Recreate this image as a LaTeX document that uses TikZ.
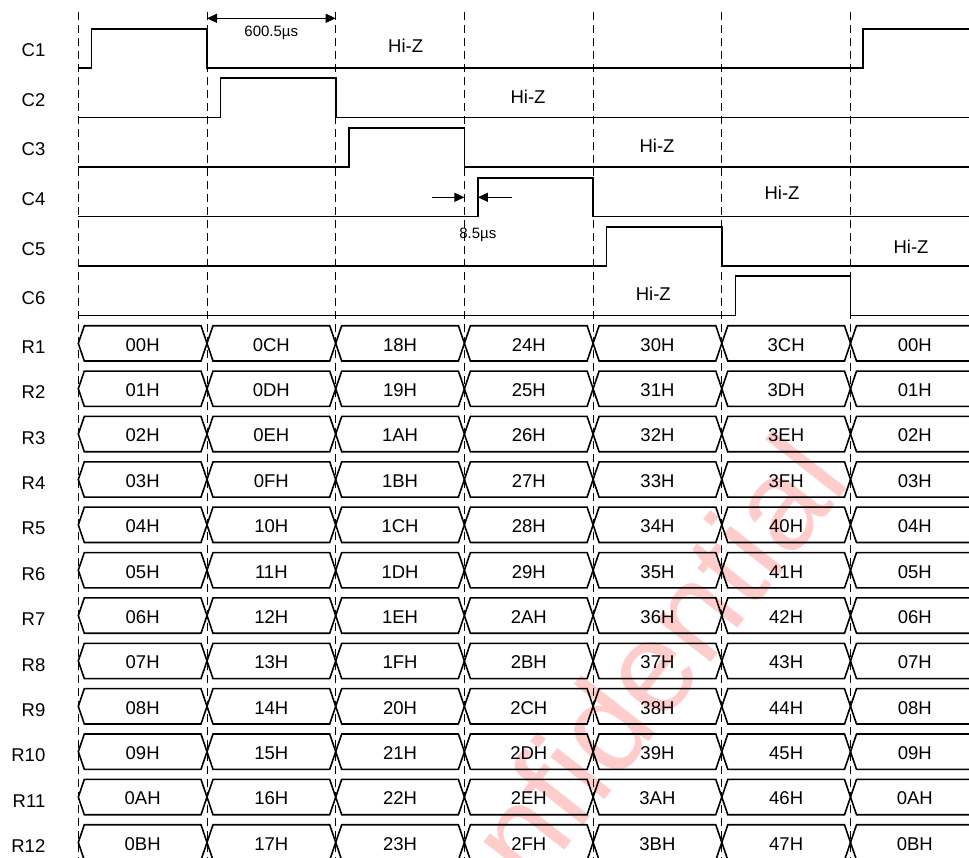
\documentclass[tikz,border=0pt]{standalone}
\usepackage{fontspec}
\setmainfont{Liberation Sans}
\usetikzlibrary{arrows.meta}
\begin{document}
\begin{tikzpicture}[x=1pt,y=-1pt,
  wave/.style={line width=1.6pt, line join=miter},
  gridline/.style={line width=0.9pt, dash pattern=on 8pt off 5pt},
  hexbox/.style={line width=1.6pt, line join=miter},
  lbl/.style={font=\fontsize{18.5}{18.5}\selectfont, inner sep=0pt},
  sig/.style={lbl, anchor=base east},
  val/.style={lbl, anchor=base},
  note/.style={font=\fontsize{15}{15}\selectfont, inner sep=0pt, anchor=base},
  dimline/.style={line width=1.2pt},
  tip/.tip={Triangle[length=10pt,width=9pt]},
  wm/.style={text=red!20, font=\fontsize{130}{130}\selectfont, inner sep=0pt},
]
\useasboundingbox (0,0) rectangle (969,857);
\clip (0,0) rectangle (969,857);

% watermark
\node[wm, rotate=52, anchor=base west] (wmark) at (430,1023) {Confidential};

% dashed grid lines
\foreach \i in {0,...,6} {
  \coordinate (gt\i) at (78.3+\i*128.7, 12);
  \coordinate (gb\i) at (78.3+\i*128.7, 860);
  \draw[gridline] (gt\i) -- (gb\i);
}

% signal labels C1..C6
\foreach \k in {1,...,6} {
  \node[sig] (c\k) at (45.5, {56.7+(\k-1)*49.6}) {C\k};
}

% waveforms
\draw[wave] (78.3,67.7) -- (91.5,67.7) -- (91.5,28.7) -- (207,28.7) -- (207,67.7) -- (863,67.7) -- (863,28.7) -- (975,28.7);
\draw[wave] (78.3,117.3) -- (220.5,117.3) -- (220.5,78.2) -- (335.7,78.2) -- (335.7,117.3) -- (975,117.3);
\draw[wave] (78.3,166.9) -- (349.2,166.9) -- (349.2,127.7) -- (464.4,127.7) -- (464.4,166.9) -- (975,166.9);
\draw[wave] (78.3,216.4) -- (477.9,216.4) -- (477.9,177.7) -- (593.1,177.7) -- (593.1,216.4) -- (975,216.4);
\draw[wave] (78.3,266.0) -- (606.6,266.0) -- (606.6,226.7) -- (721.8,226.7) -- (721.8,266.0) -- (975,266.0);
\draw[wave] (78.3,315.5) -- (735.3,315.5) -- (735.3,276.2) -- (850.5,276.2) -- (850.5,315.5) -- (975,315.5);

% Hi-Z labels
\node[val] (hz1) at (405.7,52.3) {Hi-Z};
\node[val] (hz2) at (528,103.5) {Hi-Z};
\node[val] (hz3) at (657,152.5) {Hi-Z};
\node[val] (hz4) at (782,199.3) {Hi-Z};
\node[val] (hz5) at (911,253.3) {Hi-Z};
\node[val] (hz6) at (653.3,300) {Hi-Z};

% 600.5us dimension
\coordinate (da) at (207,18.3);
\coordinate (db) at (335.7,18.3);
\draw[dimline, {tip}-{tip}] (da) -- (db);
\node[note] (t600) at (271.3,36) {600.5µs};

% 8.5us dimension
\coordinate (ea) at (432,197.3);
\coordinate (eb) at (464.4,197.3);
\coordinate (ec) at (511.7,197.3);
\coordinate (ed) at (477.9,197.3);
\draw[dimline, -{tip}] (ea) -- (eb);
\draw[dimline, -{tip}] (ec) -- (ed);
\node[note] (t85) at (477.8,238.3) {8.5µs};

% bus rows
\foreach \r/\vals in {
  1/{00H,0CH,18H,24H,30H,3CH,00H},
  2/{01H,0DH,19H,25H,31H,3DH,01H},
  3/{02H,0EH,1AH,26H,32H,3EH,02H},
  4/{03H,0FH,1BH,27H,33H,3FH,03H},
  5/{04H,10H,1CH,28H,34H,40H,04H},
  6/{05H,11H,1DH,29H,35H,41H,05H},
  7/{06H,12H,1EH,2AH,36H,42H,06H},
  8/{07H,13H,1FH,2BH,37H,43H,07H},
  9/{08H,14H,20H,2CH,38H,44H,08H},
  10/{09H,15H,21H,2DH,39H,45H,09H},
  11/{0AH,16H,22H,2EH,3AH,46H,0AH},
  12/{0BH,17H,23H,2FH,3BH,47H,0BH}} {
  \pgfmathsetmacro\T{325.7+(\r-1)*45.37}
  \pgfmathsetmacro\B{\T+35.3}
  \pgfmathsetmacro\M{\T+17.65}
  \node[sig] (r\r) at (45.5,\T+27.7) {R\r};
  \foreach \v [count=\c from 0] in \vals {
    \pgfmathsetmacro\xa{78.3+\c*128.7}
    \pgfmathsetmacro\xb{\xa+128.7}
    \ifnum\c<6
      \draw[hexbox] (\xa,\M) -- (\xa+6,\T) -- (\xb-6,\T) -- (\xb,\M) -- (\xb-6,\B) -- (\xa+6,\B) -- cycle;
    \else
      \draw[hexbox] (990,\T) -- (\xa+6,\T) -- (\xa,\M) -- (\xa+6,\B) -- (990,\B);
    \fi
    \node[val] (v\r-\c) at (\xa+64.35,\T+25.5) {\v};
  }
}
\end{tikzpicture}
\end{document}
